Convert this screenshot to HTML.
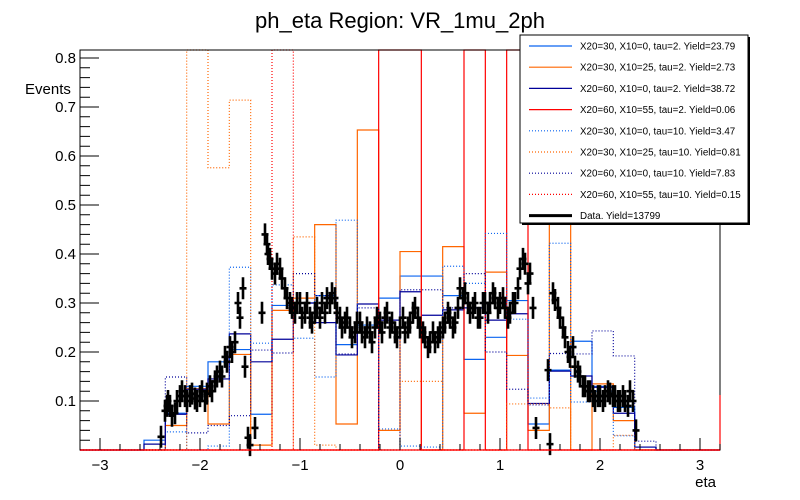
<!DOCTYPE html>
<html><head><meta charset="utf-8"><style>
html,body{margin:0;padding:0;background:#fff;}
svg{display:block;font-family:"Liberation Sans",sans-serif;}
</style></head><body>
<svg id="c" width="800" height="500" viewBox="0 0 800 500" xmlns="http://www.w3.org/2000/svg">
<rect x="0" y="0" width="800" height="500" fill="#fff"/>
<text x="400" y="28" font-size="22" text-anchor="middle" fill="#000">ph_eta Region: VR_1mu_2ph</text>
<text x="25" y="94" font-size="15" fill="#000">Events</text>
<text x="716" y="487" font-size="15" text-anchor="end" fill="#000">eta</text>
<g id="plot"></g>
<g id="legend"></g>
</svg>
<script>
const binLo = -3.2, binHi = 3.2, nBins = 30;
const xTicks = [-3,-2,-1,0,1,2,3];
const yTicks = [0.1,0.2,0.3,0.4,0.5,0.6,0.7,0.8];
const seriesNames = ["X20=30, X10=0, tau=2. Yield=23.79","X20=30, X10=25, tau=2. Yield=2.73","X20=60, X10=0, tau=2. Yield=38.72","X20=60, X10=55, tau=2. Yield=0.06","X20=30, X10=0, tau=10. Yield=3.47","X20=30, X10=25, tau=10. Yield=0.81","X20=60, X10=0, tau=10. Yield=7.83","X20=60, X10=55, tau=10. Yield=0.15"];
const s1 = [0,0,0,0.02,0.075,0.13,0.18,0.205,0.073,0.295,0.30,0.315,0.215,0.255,0.31,0.355,0.355,0.315,0.185,0.23,0.305,0.053,0.163,0.222,0.13,0.087,0.006,0,0,0];
const s2 = [0,0,0,0,0.05,0.125,0.053,0.195,0.01,0.285,0.31,0.46,0.053,0.653,0.04,0.405,0,0.415,0.075,0.363,0.193,0.04,2,0,0.135,0.06,0,0,0,0];
const s3 = [0,0,0,0.012,0.073,0.124,0.145,0.237,0.18,0.226,0.30,0.26,0.194,0.298,0.265,0.323,0.275,0.286,0.29,0.265,0.278,0.095,0.161,0.151,0.128,0.075,0.006,0,0,0];
const s4 = [0,0,0,0,0,0,0,0,0,0,0,0,0,0,2,2,0,0,2,0,2,0,0,0,0,0,0,0,0,0];
const s5 = [0,0,0,0,0.037,0,0.008,0.373,0.218,0.337,0.228,0.149,0.469,0.25,0.043,0.008,0.006,0.375,0.34,0.442,0.267,0.106,0.422,0.098,0.12,0.029,0,0,0,0];
const s6 = [0,0,0,0,0,2,0.576,0.714,0,0,0.435,0.01,0,0,0,0.14,0.14,0,0,0,0.094,0.094,0.086,0,0,0.03,0,0,0,0];
const s7 = [0,0,0,0,0.149,0.035,0.05,0.07,0.204,0.198,0.36,0.315,0.196,0.29,0,0.327,0.327,0.29,0.36,0.2,0.124,0.092,0.197,0.196,0.243,0.192,0.018,0,0,0];
const s8 = [0,0,0,0,0,0,0,0,0,2,0,0,0,0,0,0,0,0,0,0,0,0,0,0,0,0,0,0,0,0];
const dataEta = [-2.39,-2.35,-2.33,-2.32,-2.3,-2.28,-2.25,-2.23,-2.2,-2.18,-2.15,-2.13,-2.1,-2.08,-2.05,-2.03,-2.0,-1.98,-1.95,-1.93,-1.9,-1.88,-1.85,-1.83,-1.8,-1.78,-1.75,-1.73,-1.7,-1.68,-1.65,-1.62,-1.6,-1.57,-1.55,-1.52,-1.5,-1.45,-1.38,-1.35,-1.33,-1.32,-1.3,-1.28,-1.25,-1.23,-1.2,-1.18,-1.15,-1.13,-1.1,-1.08,-1.05,-1.03,-1.0,-0.98,-0.95,-0.93,-0.9,-0.88,-0.85,-0.83,-0.8,-0.78,-0.75,-0.73,-0.7,-0.68,-0.65,-0.63,-0.6,-0.58,-0.55,-0.53,-0.5,-0.48,-0.45,-0.43,-0.4,-0.38,-0.35,-0.33,-0.3,-0.28,-0.25,-0.23,-0.2,-0.18,-0.15,-0.13,-0.1,-0.08,-0.05,-0.03,0,0.03,0.05,0.08,0.1,0.13,0.15,0.18,0.2,0.23,0.25,0.28,0.3,0.33,0.35,0.38,0.4,0.43,0.45,0.48,0.5,0.53,0.55,0.58,0.6,0.63,0.65,0.68,0.7,0.73,0.75,0.78,0.8,0.83,0.85,0.88,0.9,0.93,0.95,0.98,1.0,1.03,1.05,1.08,1.1,1.13,1.15,1.18,1.2,1.23,1.25,1.28,1.3,1.33,1.36,1.48,1.5,1.53,1.55,1.58,1.6,1.63,1.65,1.68,1.7,1.73,1.75,1.78,1.8,1.83,1.85,1.88,1.9,1.93,1.95,1.98,2.0,2.03,2.05,2.08,2.1,2.13,2.15,2.18,2.2,2.23,2.25,2.28,2.3,2.33,2.36];
const dataVal = [0.027,0.08,0.09,0.1,0.09,0.07,0.075,0.1,0.11,0.12,0.11,0.1,0.11,0.115,0.105,0.1,0.11,0.12,0.1,0.115,0.13,0.12,0.14,0.15,0.16,0.15,0.19,0.18,0.21,0.2,0.22,0.3,0.27,0.33,0.17,0.025,0.01,0.045,0.28,0.44,0.42,0.4,0.39,0.37,0.36,0.38,0.37,0.35,0.33,0.31,0.3,0.29,0.28,0.3,0.3,0.27,0.28,0.3,0.27,0.26,0.28,0.29,0.27,0.3,0.28,0.31,0.3,0.32,0.31,0.28,0.27,0.25,0.26,0.27,0.25,0.23,0.24,0.26,0.26,0.24,0.23,0.25,0.24,0.22,0.25,0.27,0.26,0.24,0.27,0.28,0.25,0.26,0.24,0.23,0.25,0.27,0.24,0.25,0.26,0.28,0.29,0.27,0.25,0.24,0.23,0.21,0.22,0.24,0.22,0.23,0.24,0.25,0.26,0.28,0.27,0.25,0.26,0.29,0.33,0.31,0.32,0.3,0.28,0.29,0.3,0.27,0.27,0.3,0.3,0.28,0.3,0.32,0.31,0.29,0.3,0.31,0.29,0.27,0.28,0.3,0.3,0.33,0.37,0.39,0.38,0.34,0.36,0.29,0.045,0.163,0.012,0.32,0.306,0.29,0.27,0.25,0.23,0.2,0.19,0.21,0.17,0.16,0.15,0.13,0.13,0.12,0.12,0.11,0.1,0.11,0.11,0.1,0.11,0.12,0.115,0.11,0.11,0.1,0.1,0.11,0.1,0.09,0.12,0.1,0.04];

const NS="http://www.w3.org/2000/svg";
const X0=80,X1=720,Y0=450,YT=50,YMAX=(450-50)/490;
function xs(v){return X0+(v-binLo)/(binHi-binLo)*(X1-X0);}
function ys(v){return Y0-Math.max(0,Math.min(YMAX,v))*490;}
const plot=document.getElementById('plot');
function mk(tag,attrs,parent){const e=document.createElementNS(NS,tag);for(const k in attrs)e.setAttribute(k,attrs[k]);(parent||plot).appendChild(e);return e;}

const colors=["#0a64f0","#ff6600","#000099","#ff0000","#0a64f0","#ff6600","#000099","#ff0000"];
const dashes=[null,null,null,null,"1,2","1,2","1,2","1,2"];
const allSeries=[s1,s2,s3,s4,s5,s6,s7,s8];
const bw=(binHi-binLo)/nBins;
allSeries.forEach((s,i)=>{
  let d="M"+xs(binLo)+","+ys(0);
  for(let k=0;k<nBins;k++){d+=" L"+xs(binLo+k*bw)+","+ys(s[k])+" L"+xs(binLo+(k+1)*bw)+","+ys(s[k]);}
  d+=" L"+xs(binHi)+","+ys(0);
  const p=mk('path',{d:d,fill:"none",stroke:colors[i],"stroke-width":1.2});
  if(dashes[i])p.setAttribute('stroke-dasharray',dashes[i]);
  
  
});
dataEta.forEach((e,i)=>{
  const x=xs(e),y=ys(dataVal[i]);
  const g=mk('path',{d:"M"+(x-3.5)+","+y+" H"+(x+3.5)+" M"+x+","+(y-11)+" V"+(y+11),stroke:"#000","stroke-width":2.6,fill:"none"});
  
  
});
const fr=mk('rect',{x:X0,y:YT,width:X1-X0,height:Y0-YT,fill:"none",stroke:"#000","stroke-width":1});


const rb=mk('path',{d:"M"+X0+","+Y0+" H"+X1+" M"+X1+","+(Y0-55)+" V"+Y0,stroke:"#ff0000","stroke-width":1.2,fill:"none"});


let td="";
for(let v=-3.2;v<=3.2001;v+=0.2){const r=Math.round(v*10)/10;const major=Math.abs(r-Math.round(r))<1e-6;td+="M"+xs(r)+","+Y0+" V"+(Y0-(major?12:6))+" ";}
for(let v=0.02;v<=YMAX;v+=0.02){const r=Math.round(v*100)/100;const major=Math.abs(r*10-Math.round(r*10))<1e-6;td+="M"+X0+","+ys(r)+" H"+(X0+(major?19:10))+" ";}
const tk=mk('path',{d:td,stroke:"#000","stroke-width":1,fill:"none"});


xTicks.forEach(t=>{const l=mk('text',{x:xs(t),y:470,"font-size":15,"text-anchor":"middle"});l.textContent=(t<0?"\u2212":"")+Math.abs(t);

});
yTicks.forEach(t=>{const l=mk('text',{x:76,y:ys(t)+5,"font-size":15,"text-anchor":"end"});l.textContent=t.toFixed(1);

});
const lg=document.getElementById('legend');
mk('rect',{x:522,y:37,width:228,height:188,fill:"#000"},lg);
const lb=mk('rect',{x:520,y:35,width:228,height:188,fill:"#fff",stroke:"#000","stroke-width":1},lg);


seriesNames.concat(["Data. Yield=13799"]).forEach((n,i)=>{
  const y=46+i*21.2;
  const ln=mk('line',{x1:529,x2:572,y1:y,y2:y,stroke:i<8?colors[i]:"#000","stroke-width":i<8?1.2:3},lg);
  if(i<8&&dashes[i])ln.setAttribute('stroke-dasharray',dashes[i]);
  
  
  const t=mk('text',{x:580,y:y+3.5,"font-size":9.8,fill:"#000"},lg);t.textContent=n;
  
  
});
</script>
</body></html>
